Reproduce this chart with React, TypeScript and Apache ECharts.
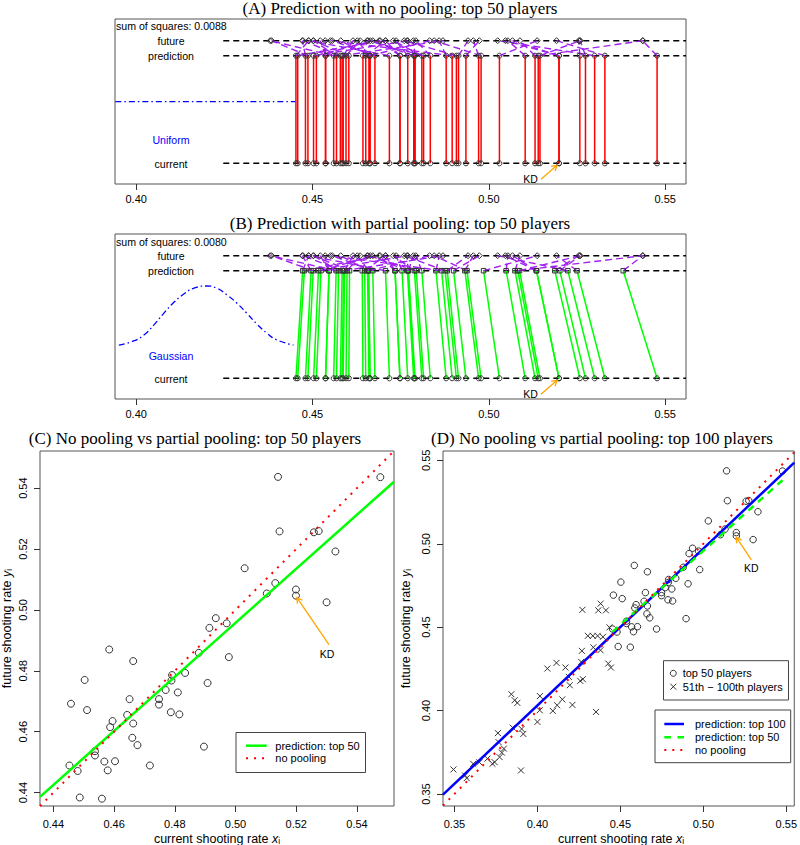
import React, { useEffect, useRef } from "react";
import * as echarts from "echarts";

// ---------------- data ----------------
const top50Current = [0.5140,0.5477,0.5145,0.5258,0.5274,0.5329,0.5030,0.5131,0.5103,0.5199,0.5199,0.5300,0.4935,0.4971,0.4914,0.4879,0.4978,0.4584,0.4663,0.4834,0.4791,0.4789,0.4503,0.4908,0.4770,0.4810,0.4651,0.4748,0.4748,0.4458,0.4511,0.4787,0.4815,0.4643,0.4595,0.4663,0.4587,0.4660,0.4677,0.4896,0.4537,0.4537,0.4568,0.4603,0.4453,0.4718,0.4480,0.4579,0.4487,0.4560];
const top50Future = [0.5437,0.5436,0.5258,0.5255,0.5259,0.5192,0.5137,0.5088,0.5054,0.5067,0.5047,0.5025,0.4973,0.4956,0.4941,0.4859,0.4845,0.4870,0.4832,0.4793,0.4786,0.4768,0.4770,0.4760,0.4737,0.4729,0.4707,0.4707,0.4689,0.4692,0.4671,0.4664,0.4657,0.4655,0.4635,0.4627,0.4615,0.4580,0.4556,0.4551,0.4536,0.4522,0.4502,0.4503,0.4489,0.4489,0.4471,0.4473,0.4384,0.4380];
const top50PartialPred = [0.5082,0.5381,0.5087,0.5187,0.5201,0.5250,0.4985,0.5074,0.5049,0.5135,0.5135,0.5224,0.4900,0.4932,0.4882,0.4850,0.4938,0.4588,0.4659,0.4810,0.4772,0.4771,0.4517,0.4876,0.4754,0.4789,0.4648,0.4734,0.4734,0.4477,0.4524,0.4769,0.4794,0.4641,0.4598,0.4659,0.4591,0.4656,0.4671,0.4866,0.4547,0.4547,0.4574,0.4605,0.4472,0.4707,0.4496,0.4584,0.4502,0.4567];
const others51Current = [0.4271,0.4381,0.4367,0.4413,0.4434,0.4304,0.4334,0.4363,0.4395,0.4268,0.4337,0.4380,0.4427,0.4443,0.4060,0.4115,0.4169,0.4264,0.4190,0.4195,0.4258,0.4274,0.4015,0.4150,0.4093,0.4119,0.4211,0.4353,0.3843,0.3863,0.3879,0.3762,0.3851,0.3905,0.3915,0.3766,0.3798,0.3786,0.3772,0.3742,0.3729,0.3699,0.3613,0.3564,0.3574,0.3494,0.3901,0.4000,0.4014,0.3650];
const others51Future = [0.4604,0.4641,0.4601,0.4601,0.4499,0.4448,0.4448,0.4448,0.4442,0.4358,0.4379,0.4362,0.4282,0.4258,0.4252,0.4286,0.4258,0.4292,0.4202,0.4152,0.4178,0.4188,0.4087,0.4067,0.3998,0.4032,0.4034,0.3992,0.4098,0.4062,0.4046,0.3865,0.3898,0.3890,0.3860,0.3811,0.3772,0.3748,0.3721,0.3691,0.3681,0.3712,0.3681,0.3611,0.3595,0.3647,0.3641,0.3932,0.4002,0.3690];

const kdPoint = [0.5199, 0.5047];

const gaussX = [0.3951,0.3993,0.4022,0.4050,0.4078,0.4107,0.4135,0.4163,0.4199,0.4229,0.4258,0.4286,0.4314,0.4343,0.4371,0.4399,0.4446];
const gaussY = [0.327,0.352,0.388,0.448,0.519,0.586,0.636,0.671,0.685,0.671,0.630,0.580,0.519,0.453,0.398,0.358,0.327];
const uniformLine = [[0.3941, 0.4988], [0.4451, 0.4988]];

const fitTop50C = [[0.4356, 0.4386], [0.5522, 0.5421]];
const noPoolC = [[0.4356, 0.4356], [0.5522, 0.5522]];
const fitTop100D = [[0.3431, 0.3496], [0.5548, 0.5486]];
const fitTop50D = [[0.4453, 0.4472], [0.5477, 0.5381]];
const noPoolD = [[0.3431, 0.3431], [0.5548, 0.5548]];

const ticksAB = [0.40, 0.45, 0.50, 0.55];
const ticksC = [0.44, 0.46, 0.48, 0.50, 0.52, 0.54];
const ticksD = [0.35, 0.40, 0.45, 0.50, 0.55];

const sumSqA = "sum of squares: 0.0088";
const sumSqB = "sum of squares: 0.0080";

// row positions (layout of panels A/B, in [0,1])
const rowCurrent = 0.1255;
const rowPred = 0.7776;
const rowFuture = 0.8685;
const rowLineStart = 0.4247;

const SANS = '"Liberation Sans", Arial, Helvetica, sans-serif';
const SERIF = '"Liberation Serif", "Times New Roman", serif';
const RED = "#FF0000", GREEN = "#00FF00", BLUE = "#0000FF", PURPLE = "#A020F0", ORANGE = "#FFA500";
const MARK = "#333";

const segRender = (style: any) => (params: any, api: any) => {
  const a = api.coord([api.value(0), api.value(1)]);
  const b = api.coord([api.value(2), api.value(3)]);
  return { type: "line", shape: { x1: a[0], y1: a[1], x2: b[0], y2: b[1] }, style: { fill: null, ...style } };
};

const segSeries = (idx: number, data: number[][], style: any, z = 2) => ({
  type: "custom", xAxisIndex: idx, yAxisIndex: idx, data, z, silent: true,
  renderItem: segRender(style),
});

const arrowSeries = (idx: number, point: number[], tip: number[], tail: number[], textOff: number[]) => ({
  type: "custom", xAxisIndex: idx, yAxisIndex: idx, data: [point], z: 10, silent: true,
  renderItem: (params: any, api: any) => {
    const p = api.coord([api.value(0), api.value(1)]);
    const tx = p[0] + tip[0], ty = p[1] + tip[1];
    const sx = p[0] + tail[0], sy = p[1] + tail[1];
    const ang = Math.atan2(ty - sy, tx - sx);
    const L = 6, A = Math.PI / 6;
    const h1 = [tx - L * Math.cos(ang - A), ty - L * Math.sin(ang - A)];
    const h2 = [tx - L * Math.cos(ang + A), ty - L * Math.sin(ang + A)];
    return {
      type: "group",
      children: [
        { type: "line", shape: { x1: sx, y1: sy, x2: tx, y2: ty }, style: { stroke: ORANGE, lineWidth: 1.3, fill: null } },
        { type: "polyline", shape: { points: [h1, [tx, ty], h2] }, style: { stroke: ORANGE, lineWidth: 1.3, fill: null } },
        { type: "text", x: p[0] + textOff[0], y: p[1] + textOff[1],
          style: { text: "KD", fill: "#000", fontSize: 10.5, fontFamily: SANS, align: "center", verticalAlign: "middle", textAlign: "center", textVerticalAlign: "middle" } },
      ],
    };
  },
});

const scatter = (idx: number, data: number[][], symbol: string, size: number, z = 5) => ({
  type: "scatter", xAxisIndex: idx, yAxisIndex: idx, data, symbol, symbolSize: size, z, silent: true,
  itemStyle: { color: "rgba(0,0,0,0)", borderColor: MARK, borderWidth: 1, opacity: 1 },
});

const lineSeries = (idx: number, data: number[][], color: string, width: number, dash: any, z = 6, smooth = false) => ({
  type: "line", xAxisIndex: idx, yAxisIndex: idx, data, symbol: "none", showSymbol: false, smooth, z, silent: true,
  lineStyle: { color, width, type: dash, cap: "butt" },
});

const txt = (x: number, y: number, text: string, size: number, opts: any = {}) => ({
  type: "text", x, y, z: 100, silent: true, rotation: opts.rotation || 0,
  style: {
    text, fill: opts.color || "#000", fontSize: size, fontFamily: opts.family || SANS,
    textAlign: opts.align || "center", align: opts.align || "center",
    textVerticalAlign: "middle", verticalAlign: "middle", rich: opts.rich,
    lineHeight: opts.lineHeight,
  },
});

const axisTitleRich = {
  it: { fontStyle: "italic", fontSize: 12.5, fontFamily: SANS, lineHeight: 13, verticalAlign: "middle" },
  sub: { fontSize: 8.5, fontFamily: SANS, lineHeight: 6, verticalAlign: "bottom" },
};

const boxGrid = (left: number, top: number, width: number, height: number) => ({
  left, top, width, height, show: true, borderColor: "#555", borderWidth: 1, backgroundColor: "transparent", containLabel: false,
});

const xAx = (idx: number, min: number, max: number, ticks: number[], margin: number) => ({
  type: "value", gridIndex: idx, min, max, position: "bottom",
  axisLine: { show: false, onZero: false },
  splitLine: { show: false },
  axisTick: { show: true, inside: false, length: 6, customValues: ticks, lineStyle: { color: "#333", width: 1 } },
  axisLabel: { show: true, customValues: ticks, margin, color: "#000", fontSize: 11, fontFamily: SANS, formatter: (v: number) => v.toFixed(2) },
});

const yAxC = (idx: number, min: number, max: number, ticks: number[]) => ({
  type: "value", gridIndex: idx, min, max, position: "left",
  axisLine: { show: false, onZero: false },
  splitLine: { show: false },
  axisTick: { show: true, inside: false, length: 6, customValues: ticks, lineStyle: { color: "#333", width: 1 } },
  axisLabel: { show: true, customValues: ticks, margin: 12, rotate: 90, color: "#000", fontSize: 11, fontFamily: SANS, formatter: (v: number) => v.toFixed(2) },
});

const yAxHidden = (idx: number) => ({ type: "value", gridIndex: idx, min: 0, max: 1, show: false });

export default function App() {
  const ref = useRef<HTMLDivElement>(null);
  useEffect(() => {
    document.body.style.margin = "0";
    if (!ref.current) return;
    const chart = echarts.init(ref.current, undefined, { renderer: "svg" });

    const dashRows = [rowFuture, rowPred, rowCurrent].map((r) => [rowLineStart, r, 0.5559, r]);
    const blackDash = { stroke: "#000", lineWidth: 1.6, lineDash: [6, 4] };

    const series: any[] = [
      // ----- Panel A -----
      segSeries(0, dashRows, blackDash, 1),
      lineSeries(0, uniformLine, BLUE, 1.3, [6, 3, 1.5, 3], 1),
      segSeries(0, top50Current.map((x) => [x, rowCurrent, x, rowPred]), { stroke: RED, lineWidth: 1.5 }, 2),
      segSeries(0, top50Current.map((x, i) => [x, rowPred, top50Future[i], rowFuture]), { stroke: PURPLE, lineWidth: 1.4, lineDash: [7, 4] }, 3),
      scatter(0, top50Current.map((x) => [x, rowCurrent]), "circle", 5),
      scatter(0, top50Current.map((x) => [x, rowPred]), "circle", 5),
      scatter(0, top50Future.map((y) => [y, rowFuture]), "diamond", 6),
      arrowSeries(0, [kdPoint[0], rowCurrent], [-2, 2], [-18, 16], [-28.5, 16]),

      // ----- Panel B -----
      segSeries(1, dashRows, blackDash, 1),
      lineSeries(1, gaussX.map((x, i) => [x, gaussY[i]]), BLUE, 1.3, [6, 3, 1.5, 3], 1, true),
      segSeries(1, top50Current.map((x, i) => [x, rowCurrent, top50PartialPred[i], rowPred]), { stroke: GREEN, lineWidth: 1.5 }, 2),
      segSeries(1, top50PartialPred.map((p, i) => [p, rowPred, top50Future[i], rowFuture]), { stroke: PURPLE, lineWidth: 1.4, lineDash: [7, 4] }, 3),
      scatter(1, top50Current.map((x) => [x, rowCurrent]), "circle", 5),
      scatter(1, top50PartialPred.map((p) => [p, rowPred]), "rect", 4.5),
      scatter(1, top50Future.map((y) => [y, rowFuture]), "diamond", 6),
      arrowSeries(1, [kdPoint[0], rowCurrent], [-2, 2], [-18, 16], [-28.5, 16]),

      // ----- Panel C -----
      scatter(2, top50Current.map((x, i) => [x, top50Future[i]]), "circle", 7),
      lineSeries(2, fitTop50C, GREEN, 2.5, "solid", 6),
      lineSeries(2, noPoolC, RED, 2, [2, 6], 7),
      arrowSeries(2, kdPoint, [1, 2], [33, 49], [31, 58]),

      // ----- Panel D -----
      scatter(3, top50Current.map((x, i) => [x, top50Future[i]]), "circle", 6.5),
      scatter(3, others51Current.map((x, i) => [x, others51Future[i]]), "path://M0 0L10 10M10 0L0 10", 6),
      lineSeries(3, fitTop100D, BLUE, 2.5, "solid", 6),
      lineSeries(3, fitTop50D, GREEN, 2.5, [7, 6], 7),
      lineSeries(3, noPoolD, RED, 2, [2, 6], 8),
      arrowSeries(3, kdPoint, [0, 1.5], [15, 24], [15, 32]),
    ];

    const graphic: any[] = [
      // titles
      txt(400, 8, "(A) Prediction with no pooling: top 50 players", 17, { family: SERIF }),
      txt(400, 223, "(B) Prediction with partial pooling: top 50 players", 17, { family: SERIF }),
      txt(195, 438, "(C) No pooling vs partial pooling: top 50 players", 17, { family: SERIF }),
      txt(602, 438, "(D) No pooling vs partial pooling: top 100 players", 17, { family: SERIF }),
      // panel A labels
      txt(116, 26, sumSqA, 10.6, { align: "left" }),
      txt(171, 41, "future", 10.6),
      txt(171, 55.5, "prediction", 10.6),
      txt(171, 140, "Uniform", 10.6, { color: BLUE }),
      txt(171, 163.5, "current", 10.6),
      // panel B labels
      txt(116, 241.5, sumSqB, 10.6, { align: "left" }),
      txt(171, 256, "future", 10.6),
      txt(171, 270.5, "prediction", 10.6),
      txt(171, 355.5, "Gaussian", 10.6, { color: BLUE }),
      txt(171, 378.5, "current", 10.6),
      // axis titles C/D
      txt(217, 839, "current shooting rate {it|x}{sub|i}", 12.5, { rich: axisTitleRich, lineHeight: 13 }),
      txt(621, 839, "current shooting rate {it|x}{sub|i}", 12.5, { rich: axisTitleRich, lineHeight: 13 }),
      txt(7, 628.5, "future shooting rate {it|y}{sub|i}", 12.5, { rich: axisTitleRich, lineHeight: 13, rotation: Math.PI / 2 }),
      txt(406, 628.5, "future shooting rate {it|y}{sub|i}", 12.5, { rich: axisTitleRich, lineHeight: 13, rotation: Math.PI / 2 }),
      // legend C
      { type: "rect", z: 90, shape: { x: 236, y: 732.5, width: 129.5, height: 40 }, style: { fill: "#fff", stroke: "#444", lineWidth: 1 } },
      { type: "line", z: 95, shape: { x1: 246, y1: 745.7, x2: 266.7, y2: 745.7 }, style: { stroke: GREEN, lineWidth: 2.5 } },
      { type: "line", z: 95, shape: { x1: 246, y1: 758.3, x2: 266.7, y2: 758.3 }, style: { stroke: RED, lineWidth: 2, lineDash: [2, 6] } },
      txt(275.3, 745.7, "prediction: top 50", 11, { align: "left" }),
      txt(275.3, 758.3, "no pooling", 11, { align: "left" }),
      // legend D (points)
      { type: "rect", z: 90, shape: { x: 663.5, y: 660.7, width: 125, height: 39.3 }, style: { fill: "#fff", stroke: "#444", lineWidth: 1 } },
      { type: "circle", z: 95, shape: { cx: 673.3, cy: 673.3, r: 3 }, style: { fill: "none", stroke: MARK, lineWidth: 1 } },
      { type: "line", z: 95, shape: { x1: 670.3, y1: 683.7, x2: 676.3, y2: 689.7 }, style: { stroke: MARK, lineWidth: 1 } },
      { type: "line", z: 95, shape: { x1: 676.3, y1: 683.7, x2: 670.3, y2: 689.7 }, style: { stroke: MARK, lineWidth: 1 } },
      txt(682.7, 673.3, "top 50 players", 11, { align: "left" }),
      txt(682.7, 686.7, "51th \u2212 100th players", 11, { align: "left" }),
      // legend D (lines)
      { type: "rect", z: 90, shape: { x: 655, y: 710, width: 135.7, height: 52.7 }, style: { fill: "#fff", stroke: "#444", lineWidth: 1 } },
      { type: "line", z: 95, shape: { x1: 664.3, y1: 724, x2: 684, y2: 724 }, style: { stroke: BLUE, lineWidth: 2.5 } },
      { type: "line", z: 95, shape: { x1: 664.3, y1: 737.3, x2: 684, y2: 737.3 }, style: { stroke: GREEN, lineWidth: 2.5, lineDash: [6.6, 6.6] } },
      { type: "line", z: 95, shape: { x1: 664.3, y1: 750, x2: 684, y2: 750 }, style: { stroke: RED, lineWidth: 2, lineDash: [2, 6] } },
      txt(695, 724, "prediction: top 100", 11, { align: "left" }),
      txt(695, 737.3, "prediction: top 50", 11, { align: "left" }),
      txt(695, 750, "no pooling", 11, { align: "left" }),
    ];

    chart.setOption({
      animation: false,
      backgroundColor: "#fff",
      grid: [
        boxGrid(115, 19, 571, 165),
        boxGrid(115, 234, 571, 165),
        boxGrid(40, 451, 354, 355),
        boxGrid(443, 451, 355, 355),
      ],
      xAxis: [
        xAx(0, 0.394, 0.5559, ticksAB, 9.5),
        xAx(1, 0.394, 0.5559, ticksAB, 9.5),
        xAx(2, 0.4356, 0.5522, ticksC, 12),
        xAx(3, 0.3431, 0.5548, ticksD, 12),
      ],
      yAxis: [
        yAxHidden(0),
        yAxHidden(1),
        yAxC(2, 0.4356, 0.5522, ticksC),
        yAxC(3, 0.3428, 0.5556, ticksD),
      ],
      series,
      graphic,
    });
    return () => chart.dispose();
  }, []);
  return <div ref={ref} style={{ width: 800, height: 845 }} />;
}
